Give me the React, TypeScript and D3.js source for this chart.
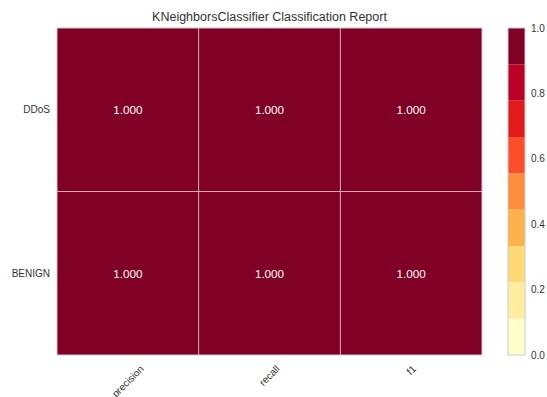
import React from "react";
import * as d3 from "d3";

const title = "KNeighborsClassifier Classification Report";
const classes = ["DDoS", "BENIGN"];
const metrics = ["precision", "recall", "f1"];
const scores: number[][] = [
  [1.0, 1.0, 1.0],
  [1.0, 1.0, 1.0],
];
const cbarTicks = [0.0, 0.2, 0.4, 0.6, 0.8, 1.0];
const binColors = ["#ffffcc", "#ffeda0", "#fed976", "#feb24c", "#fd8d3c", "#fc4e2a", "#e31a1c", "#bd0026", "#800026"];

const W = 547, H = 397;
const left = 57, right = 482, top = 28, bottom = 355;
const cbX = 508, cbW = 17;
const FONT = "'Liberation Sans', Arial, sans-serif";

function measure(text: string, size: number) {
  const c = document.createElement("canvas").getContext("2d");
  if (!c) return text.length * size * 0.5;
  c.font = `${size}px ${FONT}`;
  return c.measureText(text).width;
}

export default function App() {
  const x = d3.scaleBand<string>().domain(metrics).range([left, right]);
  const y = d3.scaleBand<string>().domain(classes).range([top, bottom]);
  const color = d3.scaleQuantize<string>().domain([0, 1]).range(binColors);
  const cy = d3.scaleLinear().domain([0, 1]).range([bottom, top]);
  const bins = d3.range(binColors.length).map((i) => [i / binColors.length, (i + 1) / binColors.length]);
  const fs = 10;
  return (
    <svg width={W} height={H} style={{ position: "absolute", left: 0, top: 0 }} fontFamily={FONT}>
      <rect width={W} height={H} fill="#fff" />
      <text x={(left + right) / 2} y={21} textAnchor="middle" fontSize={12.5} fill="#333">{title}</text>
      {classes.map((c, i) =>
        metrics.map((m, j) => (
          <g key={c + m}>
            <rect x={x(m)} y={y(c)} width={x.bandwidth()} height={y.bandwidth()} fill={color(scores[i][j])} />
            <text x={x(m)! + x.bandwidth() / 2} y={y(c)! + y.bandwidth() / 2} textAnchor="middle" dominantBaseline="central" fontSize={11.7} fill="#fff">
              {scores[i][j].toFixed(3)}
            </text>
          </g>
        ))
      )}
      {metrics.slice(1).map((m) => (
        <line key={m} x1={x(m)} x2={x(m)} y1={top} y2={bottom} stroke="#fff" strokeOpacity={0.55} strokeWidth={1} />
      ))}
      {classes.slice(1).map((c) => (
        <line key={c} x1={left} x2={right} y1={y(c)} y2={y(c)} stroke="#fff" strokeOpacity={0.55} strokeWidth={1} />
      ))}
      <rect x={left} y={top} width={right - left} height={bottom - top} fill="none" stroke="#ccc" strokeWidth={1} />
      {classes.map((c) => (
        <text key={c} x={50} y={y(c)! + y.bandwidth() / 2} textAnchor="end" dominantBaseline="central" fontSize={fs} fill="#333">{c}</text>
      ))}
      {metrics.map((m) => {
        const w = measure(m, fs);
        const h = fs * 1.15;
        const bb = (w + h) / Math.SQRT2;
        const cx = x(m)! + x.bandwidth() / 2;
        const cyy = bottom + 8 + bb / 2;
        return (
          <text key={m} x={cx} y={cyy} textAnchor="middle" dominantBaseline="central" fontSize={fs} fill="#333" transform={`rotate(-45 ${cx} ${cyy})`}>{m}</text>
        );
      })}
      {bins.map(([a, b], i) => (
        <rect key={i} x={cbX} y={cy(b)} width={cbW} height={cy(a) - cy(b)} fill={binColors[i]} />
      ))}
      <rect x={cbX} y={top} width={cbW} height={bottom - top} fill="none" stroke="#ccc" strokeWidth={1} />
      {cbarTicks.map((t) => (
        <text key={t} x={531} y={cy(t)} dominantBaseline="central" fontSize={fs} fill="#333">{t.toFixed(1)}</text>
      ))}
    </svg>
  );
}
